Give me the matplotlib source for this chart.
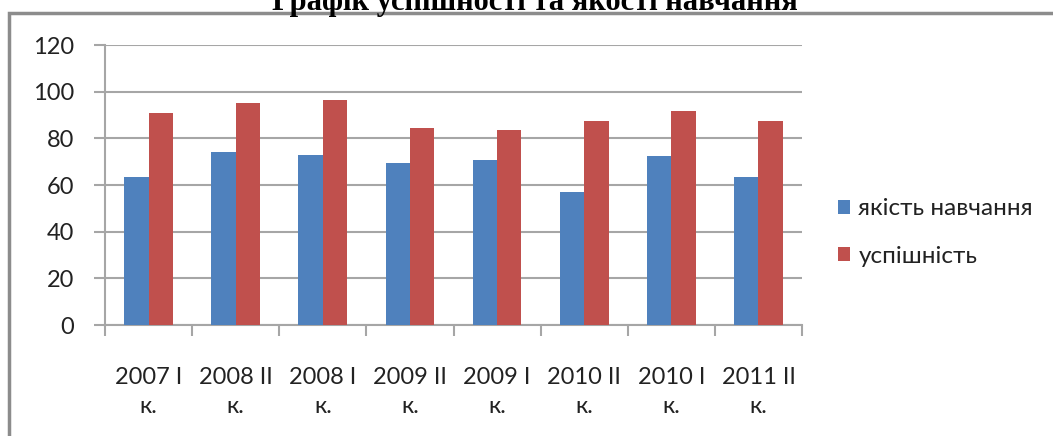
import numpy as np
import matplotlib.pyplot as plt
import matplotlib.patches as mpatches

# data
categories = ["2007 I\nк.", "2008 II\nк.", "2008 I\nк.", "2009 II\nк.",
              "2009 I\nк.", "2010 II\nк.", "2010 I\nк.", "2011 II\nк."]
quality = [63.3, 74, 73, 69.4, 70.6, 57.1, 72.6, 63.3]
success = [90.7, 95.3, 96.4, 84.6, 83.4, 87.3, 91.9, 87.3]
series_names = ["якість навчання", "успішність"]
title = "Графік успішності та якості навчання"

blue = "#4F81BD"
red = "#C0504D"
grid_c = "#A6A6A6"
txt_c = "#222222"

plt.rcParams['font.family'] = ['Lato', 'DejaVu Sans']

fig = plt.figure(figsize=(10.53, 4.36), dpi=100)
ax = fig.add_axes([105/1053, 1 - 325/436, 697/1053, 280/436])

x = np.arange(len(categories))
w = 0.28
ax.bar(x - w/2, quality, w, color=blue, label=series_names[0], zorder=3)
ax.bar(x + w/2, success, w, color=red, label=series_names[1], zorder=3)

ax.set_xlim(-0.5, len(categories) - 0.5)
ax.set_ylim(0, 120)
ax.set_yticks(np.arange(0, 121, 20))
ax.yaxis.grid(True, color=grid_c, lw=1.5, zorder=0)
ax.set_axisbelow(True)

for s in ["top", "right"]:
    ax.spines[s].set_visible(False)
ax.spines["left"].set_color(grid_c)
ax.spines["bottom"].set_color(grid_c)
ax.spines["left"].set_linewidth(1.5)
ax.spines["bottom"].set_linewidth(1.5)

# category labels in the centre, tick marks between categories
ax.set_xticks(x)
ax.set_xticklabels(categories, fontsize=17, color=txt_c, linespacing=1.5)
ax.tick_params(axis="x", length=0, pad=30)
ax.set_xticks(np.arange(-0.5, len(categories), 1), minor=True)
ax.tick_params(axis="x", which="minor", length=8, width=1.5, color=grid_c)
ax.tick_params(axis="y", length=8, width=1.5, color=grid_c, labelsize=17,
               labelcolor=txt_c, pad=14)

ax.legend(loc="center left", bbox_to_anchor=(1.02, 0.33), frameon=False,
          fontsize=17.5, handlelength=0.5, handleheight=0.5, handletextpad=0.35,
          labelspacing=1.1, labelcolor=txt_c)

# outer chart frame, cut by the image edges
fig.patches.append(mpatches.Rectangle((9/1053, -0.1), 1.2, 1.1 - 13/436,
                                      transform=fig.transFigure, fill=False,
                                      edgecolor="#8C8C8C", lw=2.5, zorder=0))

fig.text(535/1053, 1 - 10/436, title, ha="center", va="baseline",
         family="Liberation Serif", weight="bold", fontsize=22, color="black")

fig.savefig("out.png", dpi=100)
